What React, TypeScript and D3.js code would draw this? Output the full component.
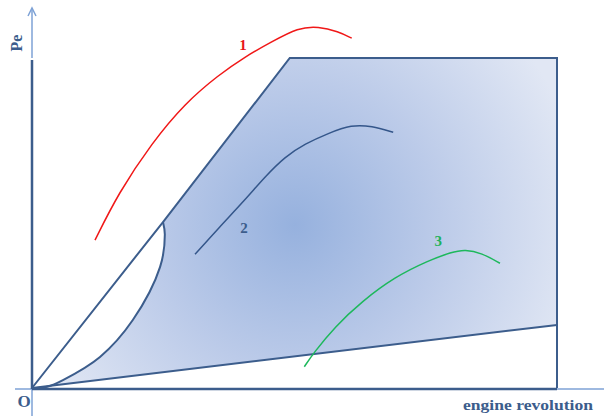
import React from "react";
import * as d3 from "d3";

// Chart units: x = engine revolution (0..100 = O..right edge), y = Pe (0..100 = O..top edge)
const envelopeOuter: [number, number][] = [
  [0, 0], [24.95, 50.3], [49.1, 100], [100, 100], [100, 0],
];
const envelopeLower: [number, number][] = [[0, 0], [100, 19.1]];
const innerCurve: [number, number][] = [
  [0, 0], [2.9, 0.4], [5.9, 2.4], [12.95, 9.4], [19.2, 20.6], [24.4, 36.7], [25.3, 46.5], [24.95, 50.3],
];
const fillEdge: [number, number][] = [
  [24.95, 50.3], [49.1, 100], [100, 100], [100, 19.1], [0, 0],
];
const curve1: [number, number][] = [
  [12.0, 44.8], [16.44, 59.0], [22.8, 74.2], [29.14, 86.3], [35.5, 94.8], [40.57, 100.4],
  [45.66, 104.9], [50.72, 109.2], [54.53, 109.6], [58.34, 108.0], [60.9, 106.0],
];
const curve2: [number, number][] = [
  [31.05, 40.5], [35.49, 48.4], [40.57, 57.0], [44.38, 64.0], [48.19, 70.1], [52.0, 74.0],
  [56.44, 77.2], [60.9, 79.8], [64.7, 79.4], [68.8, 77.5],
];
const curve3: [number, number][] = [
  [51.87, 6.45], [53.58, 10.5], [57.71, 18.6], [62.8, 26.2], [69.14, 33.7], [75.49, 38.6],
  [79.94, 41.2], [82.48, 42.0], [85.66, 40.9], [89.14, 37.8],
];
const curveLabels = [
  { text: "1", x: 40.2, y: 102.4, color: "#e8141a" },
  { text: "2", x: 40.4, y: 47.0, color: "#3c5d8c" },
  { text: "3", x: 77.4, y: 43.0, color: "#1fb25a" },
];
const axisLabelX = "engine revolution";
const axisLabelY = "Pe";
const originLabel = "O";

export default function App() {
  const x = d3.scaleLinear().domain([0, 100]).range([32, 557]);
  const y = d3.scaleLinear().domain([0, 100]).range([388, 58]);
  const lin = d3.line<[number, number]>().x((d) => x(d[0])).y((d) => y(d[1]));
  const smooth = d3
    .line<[number, number]>()
    .x((d) => x(d[0]))
    .y((d) => y(d[1]))
    .curve(d3.curveCatmullRom.alpha(0.5));
  const basis = d3
    .line<[number, number]>()
    .x((d) => x(d[0]))
    .y((d) => y(d[1]))
    .curve(d3.curveBasis);

  const innerPath = smooth(innerCurve) || "";
  const fillPath = (lin(fillEdge) || "") + innerPath.replace(/^M/, "L") + "Z";

  const dark = "#3c5d8c";
  const light = "#7ea2d6";
  const top = 8;

  return (
    <svg width={604} height={416} style={{ position: "absolute", left: 0, top: 0 }}>
      <defs>
        <radialGradient id="g" gradientUnits="userSpaceOnUse" cx={295} cy={225} r={290}>
          <stop offset="0" stopColor="#96b1de" />
          <stop offset="0.5" stopColor="#bccbe9" />
          <stop offset="1" stopColor="#e1e7f4" />
        </radialGradient>
      </defs>
      <rect width={604} height={416} fill="#fff" />
      <path d={fillPath} fill="url(#g)" stroke="none" />

      {/* axes */}
      <line x1={x(0)} x2={x(0)} y1={y(100)} y2={top} stroke={light} strokeWidth={1.5} />
      <path d={`M${x(0) - 4},${top + 8} L${x(0)},${top} L${x(0) + 4},${top + 8}`} fill="none" stroke={light} strokeWidth={1.5} />
      <line x1={x(0)} x2={x(0)} y1={416} y2={y(0)} stroke={light} strokeWidth={1.5} />
      <line x1={15} x2={x(0)} y1={y(0) + 1} y2={y(0) + 1} stroke={light} strokeWidth={1.5} />
      <line x1={x(100)} x2={604} y1={y(0) + 1} y2={y(0) + 1} stroke={light} strokeWidth={1.5} />
      <line x1={x(0)} x2={x(0)} y1={y(0) + 1} y2={y(100) + 2} stroke={dark} strokeWidth={2.5} />
      <line x1={x(0)} x2={x(100)} y1={y(0) + 1} y2={y(0) + 1} stroke={dark} strokeWidth={2.5} />

      {/* envelope */}
      <path d={lin(envelopeOuter) || ""} fill="none" stroke={dark} strokeWidth={2} />
      <path d={lin(envelopeLower) || ""} fill="none" stroke={dark} strokeWidth={2} />
      <path d={innerPath} fill="none" stroke={dark} strokeWidth={2} />

      {/* characteristic curves */}
      <path d={basis(curve1) || ""} fill="none" stroke="#f01818" strokeWidth={1.5} />
      <path d={basis(curve2) || ""} fill="none" stroke="#34568a" strokeWidth={1.5} />
      <path d={basis(curve3) || ""} fill="none" stroke="#1db85c" strokeWidth={1.5} />

      {curveLabels.map((l) => (
        <text key={l.text} x={x(l.x)} y={y(l.y)} fill={l.color} fontFamily="'Liberation Serif', serif" fontWeight="bold" fontSize={15} textAnchor="middle">
          {l.text}
        </text>
      ))}

      <text x={463} y={410} textLength={130} lengthAdjust="spacingAndGlyphs" fill={dark} fontFamily="'Liberation Serif', serif" fontWeight="bold" fontSize={15.5}>
        {axisLabelX}
      </text>
      <text transform="translate(22,43) rotate(-90)" fill={dark} fontFamily="'Liberation Serif', serif" fontWeight="bold" fontSize={16} textAnchor="middle">
        {axisLabelY}
      </text>
      <text x={24} y={407} fill={dark} fontFamily="'Liberation Serif', serif" fontWeight="bold" fontSize={17} textAnchor="middle">
        {originLabel}
      </text>
    </svg>
  );
}
